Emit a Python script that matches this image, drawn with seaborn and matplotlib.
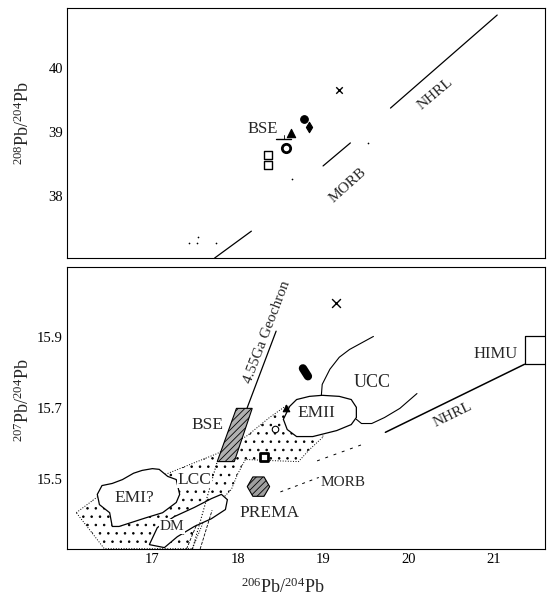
import matplotlib
matplotlib.use("Agg")
import matplotlib.pyplot as plt
import seaborn as sns

# axes ranges and ticks
x_lim = (16.0, 21.6)
top_ylim = (37.03, 40.94)
bot_ylim = (15.30, 16.10)
x_ticks = [17, 18, 19, 20, 21]
top_yticks = [38, 39, 40]
bot_yticks = [15.5, 15.7, 15.9]
bot_ytick_labels = ["15.5", "15.7", "15.9"]

# ---- top panel: 208Pb/204Pb vs 206Pb/204Pb ----
top_nhrl_x = [19.79, 21.04]
top_nhrl_y = [39.375, 40.83]
top_morb_x = [19.00, 19.32]
top_morb_y = [38.47, 38.83]
top_geo_x = [17.73, 18.16]
top_geo_y = [37.03, 37.45]
top_bse_hx = [18.45, 18.63]
top_bse_hy = [38.89, 38.89]
top_bse_vx = [18.54, 18.54]
top_bse_vy = [38.89, 38.96]
top_specks_x = [17.43, 17.54, 17.52, 17.75, 19.53, 18.64]
top_specks_y = [37.27, 37.36, 37.27, 37.27, 38.83, 38.27]

top_cross = ([19.19], [39.66])
top_dot = ([18.78], [39.20])
top_diamond = ([18.84], [39.08])
top_triangle = ([18.62], [38.98])
top_ring = ([18.57], [38.75])
top_squares = ([18.36, 18.36], [38.64, 38.48])

# ---- bottom panel: 207Pb/204Pb vs 206Pb/204Pb ----
geochron_x = [18.11, 18.45]
geochron_y = [15.70, 15.918]
geochron_low_x = [17.47, 17.76]
geochron_low_y = [15.30, 15.548]
dm_lines_x = [[17.56, 17.70], [17.40, 17.52]]
dm_lines_y = [[15.30, 15.41], [15.30, 15.37]]

bse_x = [17.985, 18.17, 17.96, 17.76]
bse_y = [15.699, 15.699, 15.548, 15.548]

lcc_x = [16.109, 16.379, 16.730, 17.176, 17.762, 18.114, 18.372, 18.571,
         18.723, 18.934, 19.005, 18.840, 18.712, 18.372, 18.090, 17.996,
         17.926, 17.809, 17.610, 17.469, 16.437]
lcc_y = [15.403, 15.452, 15.480, 15.514, 15.571, 15.622, 15.673, 15.707,
         15.688, 15.634, 15.619, 15.582, 15.548, 15.551, 15.554, 15.511,
         15.469, 15.440, 15.384, 15.301, 15.301]

emi_x = [16.355, 16.41, 16.53, 16.65, 16.78, 16.88, 17.00, 17.08, 17.18,
         17.28, 17.32, 17.28, 17.12, 16.93, 16.61, 16.53, 16.50, 16.38]
emi_y = [15.455, 15.480, 15.486, 15.497, 15.515, 15.523, 15.528, 15.526,
         15.506, 15.497, 15.455, 15.432, 15.403, 15.389, 15.364, 15.364,
         15.403, 15.426]

dm_x = [16.965, 17.059, 17.258, 17.492, 17.692, 17.809, 17.879, 17.856,
        17.692, 17.492, 17.293, 17.141]
dm_y = [15.3125, 15.361, 15.392, 15.418, 15.443, 15.455, 15.440, 15.412,
        15.386, 15.364, 15.335, 15.304]

emii_x = [18.535, 18.61, 18.69, 18.84, 18.99, 19.19, 19.33, 19.39, 19.39,
          19.33, 19.16, 18.88, 18.69, 18.58]
emii_y = [15.668, 15.705, 15.724, 15.733, 15.736, 15.733, 15.724, 15.702,
          15.673, 15.653, 15.636, 15.619, 15.619, 15.639]

ucc_top_x = [18.98, 18.99, 19.08, 19.19, 19.31, 19.59]
ucc_top_y = [15.736, 15.767, 15.810, 15.844, 15.866, 15.903]
ucc_low_x = [19.39, 19.45, 19.57, 19.72, 19.90, 20.10]
ucc_low_y = [15.668, 15.656, 15.656, 15.673, 15.699, 15.741]

nhrl_x = [19.73, 21.36]
nhrl_y = [15.631, 15.824]
himu_x = [21.36, 21.36, 21.6]
himu_y = [15.824, 15.904, 15.904]
himu_bx = [21.36, 21.6]
himu_by = [15.824, 15.824]

morb_low_x = [18.50, 18.95]
morb_low_y = [15.462, 15.503]
morb_up_x = [18.93, 19.50]
morb_up_y = [15.550, 15.600]

prema = ([18.243], [15.477])
bot_cross = ([19.15], [15.997])
bot_blob = ([18.764, 18.823], [15.8125, 15.790])
bot_triangle = ([18.57], [15.70])
bot_ring = ([18.44], [15.64])
bot_square = ([18.31], [15.562])

# label text, position, rotation, size, white backing
top_labels = [("BSE", 18.29, 39.05, 0, 12),
              ("MORB", 19.29, 38.16, 42, 11),
              ("NHRL", 20.31, 39.59, 40, 11)]
bot_labels = [("4.55Ga Geochron", 18.34, 15.915, 69, 11, False),
              ("BSE", 17.645, 15.653, 0, 12.5, False),
              ("UCC", 19.58, 15.773, 0, 13, False),
              ("EMII", 18.92, 15.685, 0, 12.5, False),
              ("HIMU", 21.02, 15.852, 0, 12, False),
              ("NHRL", 20.52, 15.682, 26, 11, False),
              ("LCC", 17.49, 15.497, 0, 12.5, True),
              ("EMI?", 16.79, 15.446, 0, 12.5, False),
              ("DM", 17.23, 15.364, 0, 11, True),
              ("PREMA", 18.37, 15.403, 0, 12.5, False),
              ("MORB", 19.23, 15.489, 0, 11, False)]

sns.set_style("white")
plt.rcParams['font.family'] = ['Liberation Serif', 'DejaVu Serif']
plt.rcParams['mathtext.fontset'] = 'custom'
plt.rcParams['mathtext.rm'] = 'Liberation Serif'
plt.rcParams['mathtext.it'] = 'Liberation Serif:italic'
plt.rcParams['hatch.linewidth'] = 0.6

fig = plt.figure(figsize=(5.5, 6.02), dpi=100)
ax1 = fig.add_axes([0.1218, 0.5714, 0.8691, 0.4153])
ax2 = fig.add_axes([0.1218, 0.0880, 0.8691, 0.4685])


def line(ax, x, y, lw=0.9, ls='-', z=3):
    sns.lineplot(x=x, y=y, sort=False, estimator=None, color='black',
                 lw=lw, linestyle=ls, ax=ax, zorder=z)


def pts(ax, xy, marker, s, fc='black', ec='black', lw=0.8, z=5):
    sns.scatterplot(x=xy[0], y=xy[1], marker=marker, s=s, facecolor=fc,
                    edgecolor=ec, linewidth=lw, ax=ax, zorder=z)


# top panel
line(ax1, top_nhrl_x, top_nhrl_y)
line(ax1, top_morb_x, top_morb_y)
line(ax1, top_geo_x, top_geo_y)
line(ax1, top_bse_hx, top_bse_hy, lw=1.0)
line(ax1, top_bse_vx, top_bse_vy, lw=0.6)
sns.scatterplot(x=top_specks_x, y=top_specks_y, marker='.', s=6,
                color='black', linewidth=0, ax=ax1)
sns.scatterplot(x=top_cross[0], y=top_cross[1], marker='x', s=22,
                color='black', linewidth=1.0, ax=ax1)
pts(ax1, top_dot, 'o', 30)
pts(ax1, top_diamond, 'd', 28)
pts(ax1, top_triangle, '^', 36)
pts(ax1, top_ring, 'o', 36, fc='white', lw=2.0)
pts(ax1, top_squares, 's', 26, fc='white', lw=1.0)
for txt, tx, ty, rot, fs in top_labels:
    ax1.text(tx, ty, txt, rotation=rot, fontsize=fs, ha='center',
             va='center', rotation_mode='anchor')

# bottom panel
ax2.fill(lcc_x, lcc_y, facecolor='white', edgecolor='black', hatch='..',
         lw=0.7, linestyle=':', zorder=1)
for px, py in [(emi_x, emi_y), (dm_x, dm_y), (emii_x, emii_y)]:
    ax2.fill(px, py, facecolor='white', edgecolor='black', lw=0.9, zorder=2)
line(ax2, geochron_x, geochron_y)
line(ax2, geochron_low_x, geochron_low_y, lw=0.8, ls=':')
for lx, ly in zip(dm_lines_x, dm_lines_y):
    line(ax2, lx, ly, lw=0.6, ls='--')
ax2.fill(bse_x, bse_y, facecolor='#b0b0b0', edgecolor='black',
         hatch='/////', lw=0.8, zorder=4)
line(ax2, ucc_top_x, ucc_top_y, lw=0.8)
line(ax2, ucc_low_x, ucc_low_y, lw=0.8)
line(ax2, nhrl_x, nhrl_y, lw=1.1)
line(ax2, himu_x, himu_y, lw=0.9)
line(ax2, himu_bx, himu_by, lw=0.9)
line(ax2, morb_low_x, morb_low_y, lw=0.7, ls=(0, (3, 5)))
line(ax2, morb_up_x, morb_up_y, lw=0.7, ls=(0, (3, 6)))

pts(ax2, prema, 'H', 260, fc='#a0a0a0', lw=0.8)
ax2.collections[-1].set_hatch('/////')
sns.scatterplot(x=bot_cross[0], y=bot_cross[1], marker='x', s=40,
                color='black', linewidth=1.0, ax=ax2)
sns.lineplot(x=bot_blob[0], y=bot_blob[1], sort=False, estimator=None,
             color='black', lw=6, solid_capstyle='round', ax=ax2, zorder=5)
pts(ax2, bot_triangle, '^', 22)
pts(ax2, bot_ring, 'o', 22, fc='white', lw=0.8)
pts(ax2, bot_square, 's', 40, fc='white', lw=2.0)
for txt, tx, ty, rot, fs, back in bot_labels:
    box = dict(facecolor='white', edgecolor='none', pad=0.5) if back else None
    ax2.text(tx, ty, txt, rotation=rot, fontsize=fs, ha='center',
             va='center', rotation_mode='anchor', zorder=6, bbox=box)

# axes cosmetics
for ax in (ax1, ax2):
    ax.set_xlim(*x_lim)
    ax.set_xticks(x_ticks)
    ax.tick_params(direction='in', length=5, width=0.8, labelsize=10.5,
                   pad=3, colors='black')
    for sp in ax.spines.values():
        sp.set_visible(True)
        sp.set_color('black')
        sp.set_linewidth(0.8)

ax1.set_ylim(*top_ylim)
ax1.set_yticks(top_yticks)
ax1.set_xticklabels([])
ax1.set_ylabel(r'$^{208}$Pb/$^{204}$Pb', fontsize=13)
ax1.yaxis.set_label_coords(-0.072, 0.54)

ax2.set_ylim(*bot_ylim)
ax2.set_yticks(bot_yticks)
ax2.set_yticklabels(bot_ytick_labels)
ax2.set_ylabel(r'$^{207}$Pb/$^{204}$Pb', fontsize=13)
ax2.yaxis.set_label_coords(-0.072, 0.528)
ax2.set_xlabel(r'$^{206}$Pb/$^{204}$Pb', fontsize=13)
ax2.xaxis.set_label_coords(0.452, -0.10)

fig.savefig("out.png", dpi=100)
